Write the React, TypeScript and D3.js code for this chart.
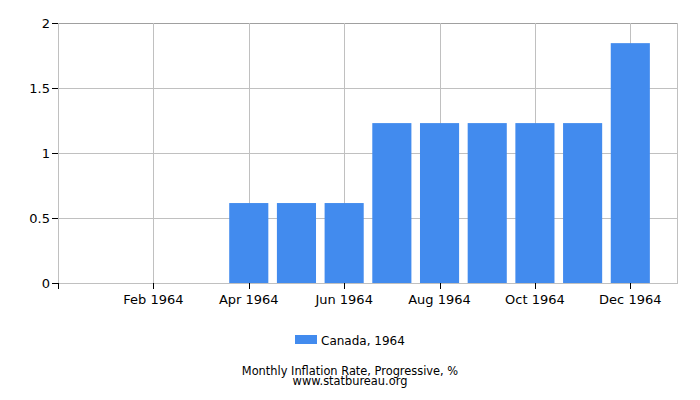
import React, { useEffect, useRef } from 'react';
import * as d3 from 'd3';

const months = ['Jan', 'Feb', 'Mar', 'Apr', 'May', 'Jun', 'Jul', 'Aug', 'Sep', 'Oct', 'Nov', 'Dec'];
const values = [0, 0, 0, 0.615, 0.615, 0.615, 1.23, 1.23, 1.23, 1.23, 1.23, 1.845];
const yTicks = [0, 0.5, 1, 1.5, 2];
const labelledMonths = [1, 3, 5, 7, 9, 11];
const year = 1964;
const seriesName = 'Canada, 1964';
const title = 'Monthly Inflation Rate, Progressive, %';
const source = 'www.statbureau.org';

const width = 700;
const height = 400;
const margin = { top: 23, right: 22, bottom: 117, left: 58 };
const font = 'DejaVu Sans, sans-serif';

export default function App() {
  const svgRef = useRef<SVGSVGElement>(null);

  useEffect(() => {
    document.body.style.margin = '0';
    if (!svgRef.current) return;
    const svg = d3.select(svgRef.current);
    svg.selectAll('*').remove();

    const innerW = width - margin.left - margin.right;
    const innerH = height - margin.top - margin.bottom;

    // month index scale, one month of padding on each side
    const x = d3.scaleLinear().domain([-1, 12]).range([0, innerW]);
    const y = d3.scaleLinear().domain([0, 2]).range([innerH, 0]);
    const step = x(1) - x(0);
    const barW = step * 0.82;

    const g = svg.append('g').attr('transform', `translate(${margin.left},${margin.top})`);

    // grid
    g.selectAll('.hgrid')
      .data(yTicks)
      .enter()
      .append('line')
      .attr('x1', 0)
      .attr('x2', innerW)
      .attr('y1', d => Math.round(y(d)) + 0.5)
      .attr('y2', d => Math.round(y(d)) + 0.5)
      .attr('stroke', d => (d === 2 ? '#a0a0a0' : '#c0c0c0'));

    g.selectAll('.vgrid')
      .data(labelledMonths)
      .enter()
      .append('line')
      .attr('x1', d => Math.round(x(d)) + 0.5)
      .attr('x2', d => Math.round(x(d)) + 0.5)
      .attr('y1', 0)
      .attr('y2', innerH)
      .attr('stroke', '#c0c0c0');

    // plot frame sides
    g.append('line').attr('x1', 0.5).attr('x2', 0.5).attr('y1', 0).attr('y2', innerH).attr('stroke', '#c0c0c0');
    g.append('line').attr('x1', innerW - 0.5).attr('x2', innerW - 0.5).attr('y1', 0).attr('y2', innerH).attr('stroke', '#c0c0c0');

    // bars
    g.selectAll('.bar')
      .data(values)
      .enter()
      .append('rect')
      .attr('x', (d, i) => x(i) - barW / 2)
      .attr('width', barW)
      .attr('y', d => y(d))
      .attr('height', d => innerH - y(d))
      .attr('fill', '#428bee');

    // y ticks and labels
    g.selectAll('.ytick')
      .data(yTicks)
      .enter()
      .append('line')
      .attr('x1', -6)
      .attr('x2', 0)
      .attr('y1', d => Math.round(y(d)) + 0.5)
      .attr('y2', d => Math.round(y(d)) + 0.5)
      .attr('stroke', '#000');

    g.selectAll('.ylabel')
      .data(yTicks)
      .enter()
      .append('text')
      .attr('x', -8)
      .attr('y', d => y(d) + 4.5)
      .attr('text-anchor', 'end')
      .style('font-family', font)
      .style('font-size', '13px')
      .attr('fill', '#000')
      .text(d => String(d));

    // x ticks and labels
    const xTickPos = [-1, ...labelledMonths];
    g.selectAll('.xtick')
      .data(xTickPos)
      .enter()
      .append('line')
      .attr('x1', d => Math.round(x(d)) + 0.5)
      .attr('x2', d => Math.round(x(d)) + 0.5)
      .attr('y1', innerH)
      .attr('y2', innerH + 6)
      .attr('stroke', '#000');

    g.selectAll('.xlabel')
      .data(labelledMonths)
      .enter()
      .append('text')
      .attr('x', d => x(d))
      .attr('y', innerH + 21)
      .attr('text-anchor', 'middle')
      .style('font-family', font)
      .style('font-size', '13px')
      .attr('fill', '#000')
      .text(d => `${months[d]} ${year}`);

    // legend
    const legend = svg.append('g').attr('transform', 'translate(295,335)');
    legend.append('rect').attr('width', 22).attr('height', 9).attr('fill', '#428bee');
    legend.append('text')
      .attr('x', 26)
      .attr('y', 9.5)
      .style('font-family', font)
      .style('font-size', '12px')
      .attr('fill', '#000')
      .text(seriesName);

    // titles
    svg.append('text')
      .attr('x', width / 2)
      .attr('y', 374.5)
      .attr('text-anchor', 'middle')
      .style('font-family', font)
      .style('font-size', '11.4px')
      .attr('fill', '#000')
      .text(title);

    svg.append('text')
      .attr('x', width / 2)
      .attr('y', 385)
      .attr('text-anchor', 'middle')
      .style('font-family', font)
      .style('font-size', '11.4px')
      .attr('fill', '#000')
      .text(source);
  }, []);

  return <svg ref={svgRef} width={width} height={height} style={{ display: 'block' }} />;
}
